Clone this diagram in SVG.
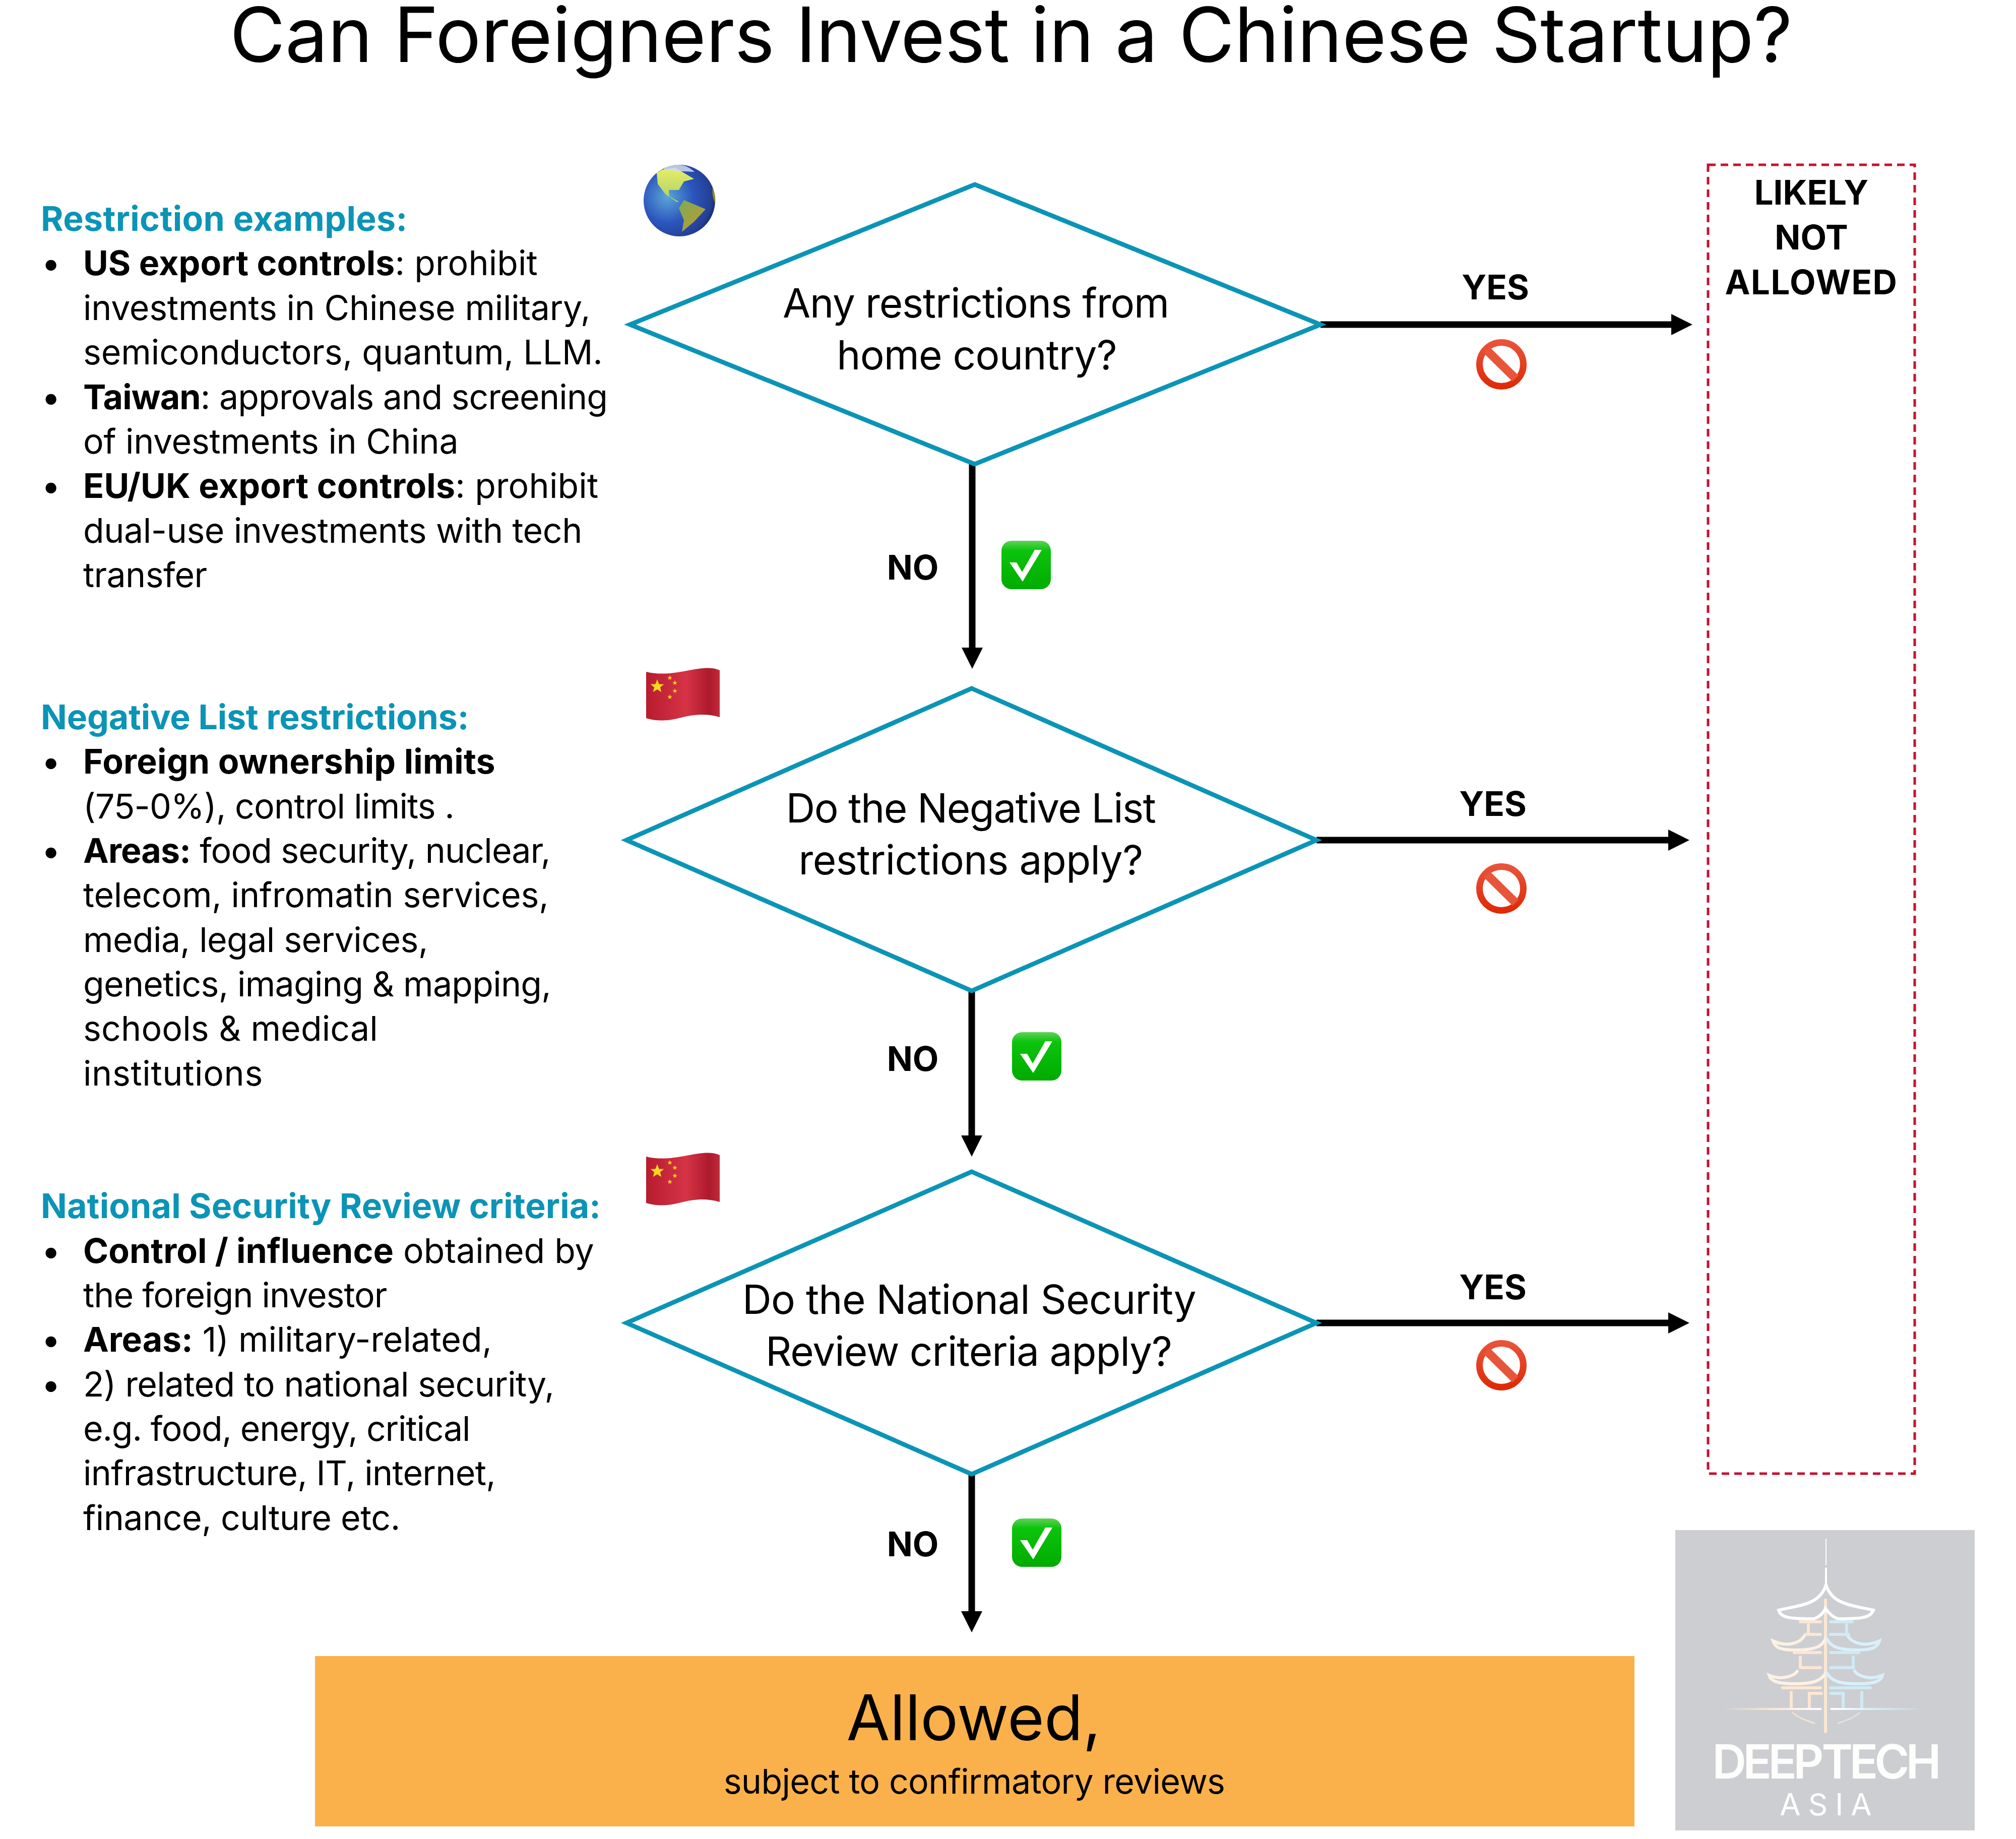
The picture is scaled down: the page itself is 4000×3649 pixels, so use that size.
<svg xmlns="http://www.w3.org/2000/svg" xmlns:xlink="http://www.w3.org/1999/xlink" width="4000" height="3649" viewBox="0 0 4000 3649">
<style>
text{font-family:"Inter","Noto Sans",sans-serif;fill:#000}
.body{font-size:68px}
.head{font-size:68px;font-weight:700;fill:#0b94b6}
.b{font-weight:700}
.q{font-size:80px;text-anchor:middle}
.lab{font-size:67px;font-weight:700;text-anchor:middle}
.dia{fill:#fff;stroke:#0b94b6;stroke-width:9;stroke-linejoin:miter}
.con{fill:none;stroke:#000;stroke-width:13}
.logo{fill:none;stroke:#fff;stroke-width:6;stroke-linecap:round}
</style>
<defs>
<marker id="ah" markerUnits="userSpaceOnUse" markerWidth="42" markerHeight="42" refX="0" refY="21" orient="auto"><path d="M0 0L42 21L0 42Z" fill="#000"/></marker>
<radialGradient id="gl" cx="0.33" cy="0.45" r="0.72"><stop offset="0" stop-color="#5aa6d8"/><stop offset="0.5" stop-color="#2c56bd"/><stop offset="0.85" stop-color="#233f96"/><stop offset="1" stop-color="#16224f"/></radialGradient>
<linearGradient id="land" x1="0" y1="0" x2="0" y2="1"><stop offset="0" stop-color="#e9ee66"/><stop offset="1" stop-color="#a8cf6b"/></linearGradient>
<linearGradient id="land2" x1="0" y1="0" x2="1" y2="1"><stop offset="0" stop-color="#7fab55"/><stop offset="1" stop-color="#c09a2c"/></linearGradient>
<linearGradient id="fl" x1="0" y1="0" x2="1" y2="0"><stop offset="0" stop-color="#b71c2e"/><stop offset="0.55" stop-color="#d63346"/><stop offset="0.85" stop-color="#ad1a2c"/><stop offset="1" stop-color="#c02a3a"/></linearGradient>
<linearGradient id="tk" x1="0" y1="0" x2="0" y2="1"><stop offset="0" stop-color="#5fd258"/><stop offset="0.2" stop-color="#0cc40c"/><stop offset="1" stop-color="#00ab00"/></linearGradient>
<linearGradient id="nog" x1="0" y1="0" x2="0" y2="1"><stop offset="0" stop-color="#e8533a"/><stop offset="1" stop-color="#e02a06"/></linearGradient>
<linearGradient id="hl" x1="0" y1="0" x2="1" y2="0"><stop offset="0" stop-color="#fbe7d2" stop-opacity="0"/><stop offset="0.5" stop-color="#fbe7d2"/><stop offset="1" stop-color="#fff"/></linearGradient>
<linearGradient id="hr" x1="0" y1="0" x2="1" y2="0"><stop offset="0" stop-color="#fff"/><stop offset="0.5" stop-color="#cfeefa"/><stop offset="1" stop-color="#cfeefa" stop-opacity="0"/></linearGradient>
<polygon id="st" points="0,-10 2.6,-3.2 9.5,-3.1 4.2,1.2 5.9,8.1 0,4.2 -5.9,8.1 -4.2,1.2 -9.5,-3.1 -2.6,-3.2"/>
<g id="flag">
<path d="M0 8C25 14 50 12 80 6C105 1 130 -3 146 5V98C120 90 95 92 65 100C40 106 20 106 0 100Z" fill="url(#fl)"/>
<g fill="#f6d91f"><use xlink:href="#st" transform="translate(22 37) scale(1.4)"/><use xlink:href="#st" transform="translate(47 20) scale(.5)"/><use xlink:href="#st" transform="translate(57 30) scale(.5)"/><use xlink:href="#st" transform="translate(57 46) scale(.5)"/><use xlink:href="#st" transform="translate(47 58) scale(.5)"/></g>
</g>
<g id="tick"><rect x="0" y="0" width="98" height="96" rx="20" fill="url(#tk)"/><path d="M16 43H30L41 62L66 18H80L42 81Z" fill="#fff"/></g>
<g id="no"><circle cx="0" cy="0" r="43.5" fill="none" stroke="url(#nog)" stroke-width="13"/><path d="M-29 -28L28 28" stroke="#e7553a" stroke-width="17"/></g>
</defs>
<rect width="4000" height="3649" fill="#fff"/>
<text id="title" x="2006" y="123" font-size="151" text-anchor="middle" letter-spacing="-.36">Can Foreigners Invest in a Chinese Startup?</text>

<g id="connectors">
<path class="con" marker-end="url(#ah)" d="M2620 644H3316"/>
<path class="con" marker-end="url(#ah)" d="M1929 921V1285"/>
<path class="con" marker-end="url(#ah)" d="M2612 1667H3310"/>
<path class="con" marker-end="url(#ah)" d="M1928 1966V2253"/>
<path class="con" marker-end="url(#ah)" d="M2612 2625H3310"/>
<path class="con" marker-end="url(#ah)" d="M1928 2925V3197"/>
</g>

<g id="d1"><polygon class="dia" points="1934,366 2620,644 1934,921 1250,644"/><text class="q"><tspan x="1936" y="630" letter-spacing="-1.2">Any restrictions from</tspan><tspan x="1938" y="733" letter-spacing="-.8">home country?</tspan></text></g>
<g id="d2"><polygon class="dia" points="1928,1366 2612,1667 1928,1966 1243,1667"/><text class="q"><tspan x="1926" y="1632" letter-spacing="-1.5">Do the Negative List</tspan><tspan x="1926" y="1735" letter-spacing="-.6">restrictions apply?</tspan></text></g>
<g id="d3"><polygon class="dia" points="1928,2325 2612,2625 1928,2925 1243,2625"/><text class="q"><tspan x="1923" y="2607" letter-spacing="-.75">Do the National Security</tspan><tspan x="1922" y="2710" letter-spacing="-1">Review criteria apply?</tspan></text></g>

<g id="labels">
<text class="lab" x="2967" y="594">YES</text><text class="lab" x="2962" y="1619">YES</text><text class="lab" x="2962" y="2578">YES</text>
<text class="lab" x="1811" y="1150">NO</text><text class="lab" x="1811" y="2125">NO</text><text class="lab" x="1811" y="3088">NO</text>
</g>

<g id="restriction-examples" class="body">
<text class="head" x="81" y="458" letter-spacing=".36">Restriction examples:</text>
<text class="body" x="82" y="546">•</text><text class="body" x="165" y="546" letter-spacing=".09"><tspan class="b">US export controls</tspan>: prohibit</text>
<text class="body" x="165" y="635" letter-spacing="-.24">investments in Chinese military,</text>
<text class="body" x="165" y="723" letter-spacing="-.09">semiconductors, quantum, LLM.</text>
<text class="body" x="82" y="812">•</text><text class="body" x="165" y="812" letter-spacing="-.82"><tspan class="b">Taiwan</tspan>: approvals and screening</text>
<text class="body" x="165" y="900" letter-spacing="-.33">of investments in China</text>
<text class="body" x="82" y="988">•</text><text class="body" x="165" y="988" letter-spacing=".16"><tspan class="b">EU/UK export controls</tspan>: prohibit</text>
<text class="body" x="165" y="1077" letter-spacing="-.43">dual-use investments with tech</text>
<text class="body" x="165" y="1165" letter-spacing="-.64">transfer</text>
</g>
<g id="negative-list" class="body">
<text class="head" x="81" y="1447" letter-spacing="-.2">Negative List restrictions:</text>
<text class="body" x="82" y="1535">•</text><text class="body" x="165" y="1535" font-weight="700" letter-spacing=".21">Foreign ownership limits</text>
<text class="body" x="165" y="1624" letter-spacing="-.82">(75-0%), control limits .</text>
<text class="body" x="82" y="1712">•</text><text class="body" x="165" y="1712" letter-spacing="-.88"><tspan class="b">Areas:</tspan> food security, nuclear,</text>
<text class="body" x="165" y="1800" letter-spacing="-.18">telecom, infromatin services,</text>
<text class="body" x="165" y="1889" letter-spacing="-.58">media, legal services,</text>
<text class="body" x="165" y="1977" letter-spacing="-.73">genetics, imaging &amp; mapping,</text>
<text class="body" x="165" y="2065" letter-spacing=".15">schools &amp; medical</text>
<text class="body" x="165" y="2154" letter-spacing=".64">institutions</text>
</g>
<g id="nsr" class="body">
<text class="head" x="81" y="2417" letter-spacing=".15">National Security Review criteria:</text>
<text class="body" x="82" y="2506">•</text><text class="body" x="165" y="2506"><tspan class="b">Control / influence</tspan> obtained by</text>
<text class="body" x="165" y="2594" letter-spacing="-1.02">the foreign investor</text>
<text class="body" x="82" y="2682">•</text><text class="body" x="165" y="2682" letter-spacing="-.09"><tspan class="b">Areas:</tspan> 1) military-related,</text>
<text class="body" x="82" y="2771">•</text><text class="body" x="165" y="2771" letter-spacing="-.66">2) related to national security,</text>
<text class="body" x="165" y="2859" letter-spacing="-1.18">e.g. food, energy, critical</text>
<text class="body" x="165" y="2947" letter-spacing="-.7">infrastructure, IT, internet,</text>
<text class="body" x="165" y="3036" letter-spacing="-.5">finance, culture etc.</text>
</g>

<g id="not-allowed">
<rect x="3389" y="327" width="410" height="2597" fill="none" stroke="#c8102e" stroke-width="5" stroke-dasharray="15 10"/>
<text class="lab"><tspan x="3594" y="406">LIKELY</tspan><tspan x="3594" y="495">NOT</tspan><tspan x="3594" y="584" letter-spacing="1.5">ALLOWED</tspan></text>
</g>

<g id="allowed">
<rect x="625" y="3286" width="2618" height="338" fill="#fab14b"/>
<text x="1932" y="3453" font-size="125" text-anchor="middle">Allowed,</text>
<text x="1933" y="3559" font-size="68" text-anchor="middle" letter-spacing="-.66">subject to confirmatory reviews</text>
</g>

<g id="globe">
<circle cx="1348" cy="398" r="71" fill="url(#gl)"/>
<path d="M1303 343L1313 337L1340 333L1377 355L1357 360L1347 377L1327 377L1328 390L1347 400L1343 401L1320 385L1305 365Z" fill="url(#land)"/>
<path d="M1347 413L1357 397L1400 415L1377 440L1353 460L1357 437Z" fill="url(#land2)"/>
<path d="M1317 333C1340 324 1360 324 1378 341C1360 340 1335 340 1317 336Z" fill="#cfdcf0" opacity=".85"/>
<path d="M1414 372C1419 385 1420 395 1419 404C1415 395 1412 385 1414 372Z" fill="#8a8a20"/>
</g>
<use id="flag1" xlink:href="#flag" x="1282" y="1325"/>
<use id="flag2" xlink:href="#flag" x="1282" y="2287"/>
<use id="tick1" xlink:href="#tick" x="1987" y="1073"/>
<use id="tick2" xlink:href="#tick" x="2008" y="2048"/>
<use id="tick3" xlink:href="#tick" x="2008" y="3013"/>
<use id="no1" xlink:href="#no" x="2979" y="723"/>
<use id="no2" xlink:href="#no" x="2979" y="1763"/>
<use id="no3" xlink:href="#no" x="2979" y="2709"/>

<g id="logo">
<rect x="3324" y="3036" width="594" height="596" fill="#cdced1"/>
<g class="logo">
<path stroke-width="2" d="M3623 3054V3105"/>
<path stroke-width="4" d="M3623 3112V3143"/>
<path stroke="#fbe7d2" d="M3622 3175V3436"/>
<path d="M3623 3145C3610 3185 3570 3185 3529 3195C3533 3212 3560 3212 3600 3212C3610 3208 3618 3200 3622 3192C3628 3200 3636 3208 3646 3212C3686 3212 3711 3212 3717 3195C3676 3185 3636 3185 3623 3145Z"/>
<path stroke="#fdf1e4" d="M3622 3252C3615 3268 3600 3274 3560 3274C3530 3274 3522 3268 3518 3256C3545 3268 3570 3262 3580 3246"/>
<path stroke="#d8f0fa" d="M3625 3252C3632 3268 3650 3274 3686 3274C3716 3274 3725 3268 3729 3256C3702 3268 3676 3262 3666 3246"/>
<path stroke="#fdf1e4" d="M3622 3320C3612 3338 3590 3341 3560 3341C3525 3341 3513 3335 3510 3324C3535 3335 3560 3325 3566 3316"/>
<path stroke="#d8f0fa" d="M3625 3320C3635 3338 3655 3341 3686 3341C3721 3341 3733 3335 3735 3324C3711 3335 3686 3325 3680 3316"/>
<path stroke="#fbe7d2" d="M3572 3218H3612M3582 3243H3612M3588 3224V3243M3560 3279H3612M3572 3309H3612M3572 3288V3309M3537 3349H3612"/>
<path stroke="#cfeaf5" d="M3632 3218H3675M3632 3243H3668M3664 3224V3243M3632 3279H3688M3632 3309H3678M3677 3288V3309M3632 3349H3711"/>
<path stroke="#fbe7d2" d="M3554 3390V3358M3590 3390V3360H3614"/>
<path stroke="#cfeaf5" d="M3694 3390V3358M3657 3390V3360H3632"/>
<path stroke="#fbe7d2" stroke-width="3" opacity=".8" d="M3557 3398C3570 3410 3585 3414 3600 3419"/>
<path stroke="#e6e6e6" stroke-width="3" opacity=".8" d="M3690 3398C3677 3410 3662 3414 3647 3419"/>
</g>
<rect x="3416" y="3389" width="198" height="4" fill="url(#hl)"/>
<rect x="3632" y="3389" width="187" height="4" fill="url(#hr)"/>
<text x="3621" y="3529" font-size="94" font-weight="600" text-anchor="middle" style="fill:#fdfdfc;letter-spacing:-7px;word-spacing:-14px">DEEP TECH</text>
<text x="3630" y="3602" font-size="60" text-anchor="middle" style="fill:#fff;letter-spacing:15px">ASIA</text>
</g>
</svg>
